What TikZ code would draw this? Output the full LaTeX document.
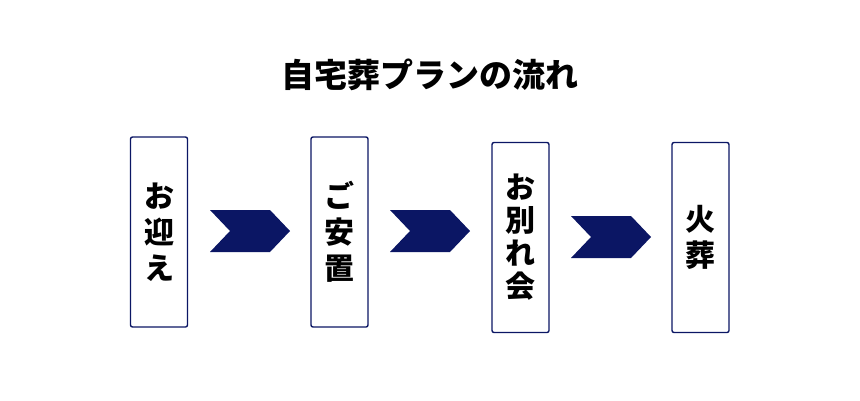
\documentclass[tikz,border=0pt]{standalone}
\usepackage{fontspec}
\newfontfamily\jp{Noto Sans CJK JP}[BoldFont={Noto Sans CJK JP Black}]
\definecolor{navy}{HTML}{0B1664}
\tikzset{
  stepbox/.style={draw=navy, line width=1.4pt, rounded corners=2pt, minimum width=57pt, minimum height=190pt, align=center, font=\jp\bfseries\fontsize{30}{36}\selectfont, inner sep=0pt},
  chev/.style={fill=navy}
}
\newcommand{\chevron}[2]{%
  \fill[chev] (#1,#2) -- ++(60,0) -- ++(20,21) -- ++(-20,21) -- ++(-60,0) -- ++(20,-21) -- cycle;}
\begin{document}
\begin{tikzpicture}[x=1pt,y=-1pt]
        \useasboundingbox (0,0) rectangle (860,400);

        % Title
        \node[font=\jp\bfseries\fontsize{33}{38}\selectfont] (title) at (430,75) {自宅葬プランの流れ};

        % Steps
        \node[stepbox] (welcome) at (159,232) {お\\迎\\え};
        \node[stepbox] (rest) at (339.5,232) {ご\\安\\置};
        \node[stepbox, font=\jp\bfseries\fontsize{30}{33}\selectfont] (farewell) at (520.5,237.5) {お\\別\\れ\\会};
        \node[stepbox] (cremation) at (700.5,237.5) {火\\葬};

        % Arrows
        \chevron{210}{210}
        \chevron{390}{210}
        \chevron{571}{216}
\end{tikzpicture}
\end{document}
